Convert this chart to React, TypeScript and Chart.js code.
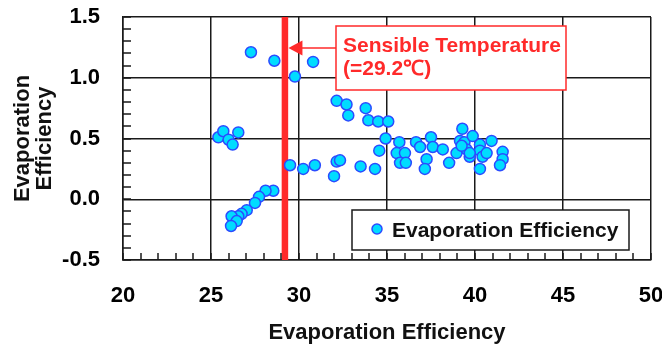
import React, { useEffect, useRef } from "react";
import { Chart, registerables } from "chart.js";

Chart.register(...registerables);

// ---- data ----
const xValues = [
  27.27, 28.6, 29.77, 30.8,
  25.42, 25.7, 26.0, 26.55, 26.23,
  29.49, 30.24, 30.9, 32.14, 32.33, 31.99,
  28.54, 28.1, 27.73, 27.5, 27.03, 26.74, 26.55, 26.17, 26.46, 26.14,
  32.14, 32.7, 32.8, 33.79, 33.94, 34.5, 35.07, 34.92, 34.56, 33.5, 34.32,
  35.7, 35.55, 36.02, 35.74, 36.07, 36.65, 36.88, 37.5, 37.6, 37.25, 37.15,
  38.17, 38.53, 38.95, 39.28, 39.15, 39.4, 39.87, 39.52, 39.7, 40.28, 40.28,
  40.43, 40.28, 40.94, 40.66, 41.57, 41.57, 41.42, 39.7, 39.24,
];
const yValues = [
  1.21, 1.14, 1.01, 1.13,
  0.51, 0.56, 0.49, 0.55, 0.45,
  0.28, 0.25, 0.28, 0.31, 0.32, 0.19,
  0.07, 0.07, 0.02, -0.03, -0.09, -0.12, -0.14, -0.14, -0.18, -0.22,
  0.81, 0.78, 0.69, 0.75, 0.65, 0.64, 0.64, 0.5, 0.4, 0.27, 0.25,
  0.47, 0.38, 0.38, 0.3, 0.3, 0.47, 0.43, 0.51, 0.43, 0.33, 0.25,
  0.41, 0.3, 0.38, 0.58, 0.48, 0.47, 0.52, 0.41, 0.35, 0.45, 0.4,
  0.35, 0.25, 0.48, 0.38, 0.39, 0.33, 0.28, 0.38, 0.44,
];
const seriesLabel = "Evaporation Efficiency";
const xTitle = "Evaporation Efficiency";
const yTitle = ["Evaporation", "Efficiency"];
const xTickValues = [20, 25, 30, 35, 40, 45, 50];
const yTickValues = [-0.5, 0.0, 0.5, 1.0, 1.5];
const sensibleTemperature = 29.2;
const annotationLines = ["Sensible Temperature", "(=29.2\u2103)"];

const FONT = "Arial, 'Liberation Sans', sans-serif";
const POINT_FILL = "#00dcff";
const POINT_BORDER = "#2a4cff";
const RED = "#ff2a2a";

const overlayPlugin = {
  id: "overlay",
  beforeDatasetsDraw(chart: any) {
    const { ctx, chartArea: a, scales } = chart;
    const px = scales.x.getPixelForValue(sensibleTemperature);
    ctx.save();
    ctx.fillStyle = RED;
    ctx.fillRect(px - 3.25, a.top, 6.5, a.bottom - a.top);
    ctx.restore();
  },
  afterDatasetsDraw(chart: any) {
    const { ctx, chartArea: a, scales } = chart;
    const xs = scales.x;
    const ys = scales.y;
    ctx.save();
    // minor ticks
    ctx.strokeStyle = "#1a1a1a";
    ctx.lineWidth = 1.5;
    ctx.beginPath();
    for (let v = xTickValues[0]; v <= xTickValues[xTickValues.length - 1]; v += 1) {
      const p = Math.round(xs.getPixelForValue(v));
      ctx.moveTo(p, a.bottom);
      ctx.lineTo(p, a.bottom - 7);
    }
    for (let i = 0; i <= 20; i++) {
      const v = yTickValues[0] + i * 0.1;
      const p = Math.round(ys.getPixelForValue(v));
      ctx.moveTo(a.left, p);
      ctx.lineTo(a.left + 8, p);
    }
    ctx.stroke();

    // annotation box
    const bx = 336, by = 26, bw = 230, bh = 64;
    ctx.fillStyle = "#ffffff";
    ctx.fillRect(bx, by, bw, bh);
    ctx.strokeStyle = RED;
    ctx.lineWidth = 1.5;
    ctx.strokeRect(bx, by, bw, bh);
    ctx.fillStyle = RED;
    ctx.font = `bold 21px ${FONT}`;
    ctx.textAlign = "left";
    ctx.textBaseline = "alphabetic";
    ctx.fillText(annotationLines[0], bx + 7, 52);
    ctx.fillText(annotationLines[1], bx + 7, 75);
    // arrow
    const tip = xs.getPixelForValue(sensibleTemperature) + 3.5;
    const ay = 48;
    ctx.beginPath();
    ctx.moveTo(bx, ay);
    ctx.lineTo(tip + 12, ay);
    ctx.stroke();
    ctx.beginPath();
    ctx.moveTo(tip, ay);
    ctx.lineTo(tip + 14, ay - 7.5);
    ctx.lineTo(tip + 14, ay + 7.5);
    ctx.closePath();
    ctx.fill();

    // legend
    const lx = 352, ly = 210, lw = 277, lh = 40;
    ctx.fillStyle = "#ffffff";
    ctx.fillRect(lx, ly, lw, lh);
    ctx.strokeStyle = "#1a1a1a";
    ctx.lineWidth = 1.5;
    ctx.strokeRect(lx, ly, lw, lh);
    ctx.beginPath();
    ctx.arc(lx + 25, ly + 19, 5, 0, Math.PI * 2);
    ctx.fillStyle = POINT_FILL;
    ctx.fill();
    ctx.strokeStyle = POINT_BORDER;
    ctx.lineWidth = 1.5;
    ctx.stroke();
    ctx.fillStyle = "#111111";
    ctx.font = `bold 21px ${FONT}`;
    ctx.textBaseline = "alphabetic";
    ctx.fillText(seriesLabel, lx + 40, ly + 27);
    ctx.restore();
  },
};

export default function App() {
  const ref = useRef<HTMLCanvasElement | null>(null);
  useEffect(() => {
    if (!ref.current) return;
    const data = xValues.map((x, i) => ({ x, y: yValues[i] }));
    const chart = new Chart(ref.current, {
      type: "scatter",
      data: {
        datasets: [
          {
            label: seriesLabel,
            data,
            backgroundColor: POINT_FILL,
            borderColor: POINT_BORDER,
            borderWidth: 1.5,
            pointRadius: 5.5,
          },
        ],
      },
      options: {
        animation: false,
        responsive: false,
        devicePixelRatio: 1,
        layout: { padding: { top: 17, right: 11, left: 0, bottom: 0 } },
        plugins: { legend: { display: false }, tooltip: { enabled: false } },
        scales: {
          x: {
            type: "linear",
            min: xTickValues[0],
            max: xTickValues[xTickValues.length - 1],
            afterBuildTicks: (s: any) => {
              s.ticks = xTickValues.map((v) => ({ value: v }));
            },
            afterFit: (s: any) => {
              s.height = 92;
              s.paddingLeft = 0;
              s.paddingRight = 0;
            },
            grid: { color: "#1a1a1a", lineWidth: 1.5, drawTicks: false },
            border: { color: "#1a1a1a", width: 1.5 },
            ticks: {
              padding: 23,
              color: "#000",
              font: { family: FONT, size: 22, weight: "bold" },
              maxRotation: 0,
            },
            title: {
              display: true,
              text: xTitle,
              color: "#111",
              font: { family: FONT, size: 22, weight: "bold", lineHeight: 1 },
              padding: { top: 0, bottom: 8 },
            },
          },
          y: {
            type: "linear",
            min: yTickValues[0],
            max: yTickValues[yTickValues.length - 1],
            afterBuildTicks: (s: any) => {
              s.ticks = yTickValues.map((v) => ({ value: v }));
            },
            afterFit: (s: any) => {
              s.width = 123;
              s.paddingTop = 0;
              s.paddingBottom = 0;
            },
            grid: { color: "#1a1a1a", lineWidth: 1.5, drawTicks: false },
            border: { color: "#1a1a1a", width: 1.5 },
            ticks: {
              padding: 23,
              color: "#000",
              font: { family: FONT, size: 22, weight: "bold" },
              callback: (v: any) => Number(v).toFixed(1),
            },
            title: {
              display: true,
              text: yTitle,
              color: "#111",
              font: { family: FONT, size: 22, weight: "bold", lineHeight: 1 },
              padding: { top: 11.5, bottom: 0 },
            },
          },
        },
      },
      plugins: [overlayPlugin],
    } as any);
    return () => chart.destroy();
  }, []);
  return (
    <div style={{ position: "absolute", left: 0, top: 0, width: 662, height: 352, background: "#fff" }}>
      <canvas ref={ref} width={662} height={352} style={{ display: "block", width: 662, height: 352 }} />
    </div>
  );
}
